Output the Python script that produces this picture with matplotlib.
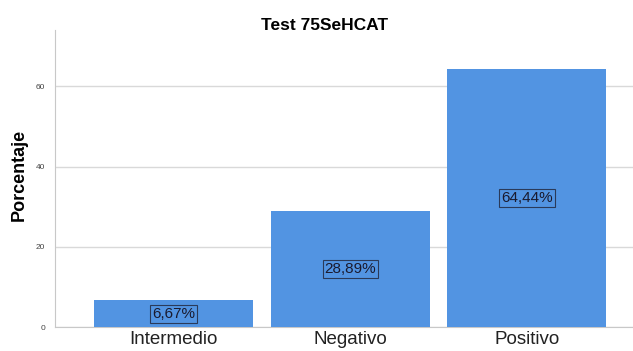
import matplotlib.pyplot as plt

plt.rcParams['font.family'] = ['Liberation Sans', 'DejaVu Sans']

categories = ['Intermedio', 'Negativo', 'Positivo']
percentages = [6.67, 28.89, 64.44]
value_labels = ['6,67%', '28,89%', '64,44%']
y_ticks = [0, 20, 40, 60]

bar_color = '#5294e2'

fig = plt.figure(figsize=(6.33, 3.51), dpi=100)
ax = fig.add_axes([0.087, 0.068, 0.913, 0.846])

x = range(len(categories))
bars = ax.bar(x, percentages, width=0.9, color=bar_color, zorder=3)

# etiquetas centradas en cada barra
for rect, txt in zip(bars, value_labels):
    ax.text(rect.get_x() + rect.get_width() / 2, rect.get_height() / 2, txt,
            ha='center', va='center', fontsize=11, color='#1a1a2e', zorder=4,
            bbox=dict(boxstyle='square,pad=0.12', facecolor=bar_color,
                      edgecolor='#2a3a5a', linewidth=0.8))

ax.set_xlim(-0.67, 2.6)
ax.set_ylim(0, 74)
ax.set_yticks(y_ticks)
ax.set_yticklabels([str(t) for t in y_ticks], fontsize=6, color='#444444')
ax.set_xticks(list(x))
ax.set_xticklabels(categories, fontsize=13.5, color='#222222')
ax.tick_params(axis='x', length=0, pad=3)
ax.tick_params(axis='y', length=0, pad=7)

ax.grid(axis='y', color='#d9d9d9', linewidth=1, zorder=0)
for side in ['top', 'right']:
    ax.spines[side].set_visible(False)
ax.spines['left'].set_color('#c8c8c8')
ax.spines['bottom'].set_color('#c8c8c8')

# título y eje y colocados en coordenadas de figura
fig.text(325 / 633, 1 - 25 / 351, 'Test 75SeHCAT',
         ha='center', va='center', fontsize=12.5, fontweight='bold')
fig.text(19 / 633, 1 - 175 / 351, 'Porcentaje', rotation=90,
         ha='center', va='center', fontsize=13, fontweight='bold')

fig.savefig('out.png', dpi=100)
